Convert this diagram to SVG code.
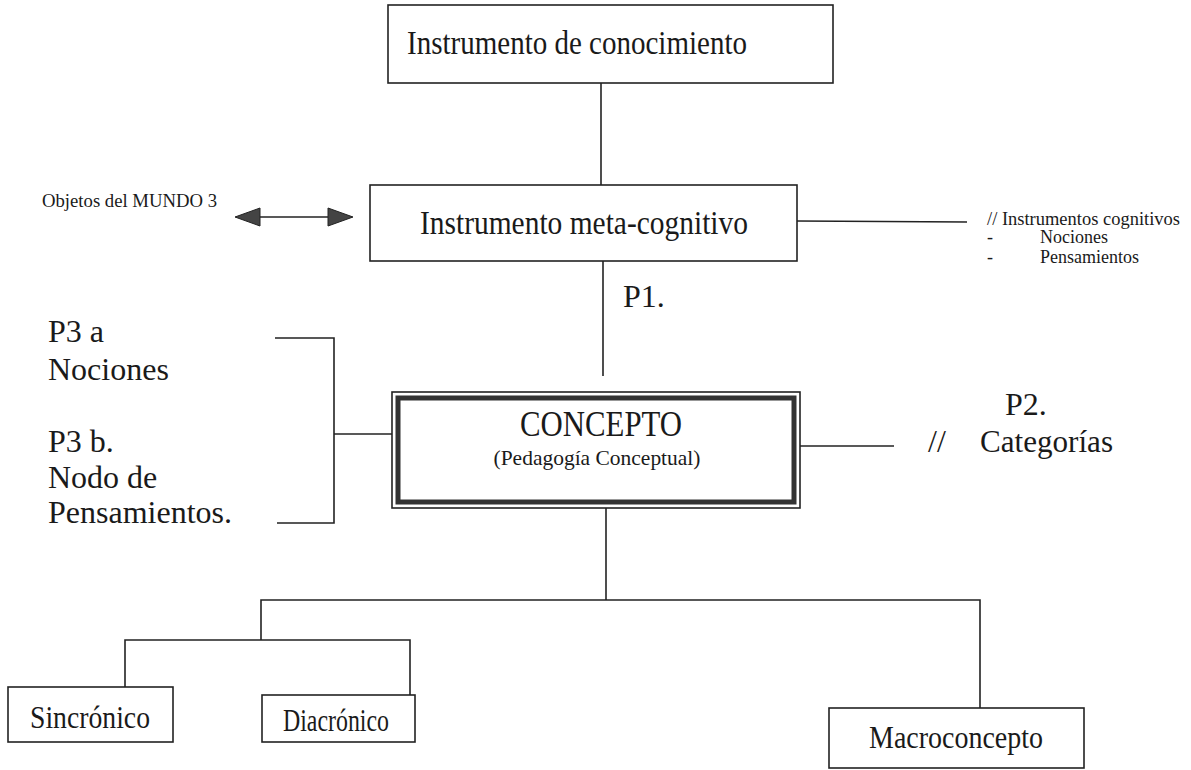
<svg xmlns="http://www.w3.org/2000/svg" width="1191" height="770" viewBox="0 0 1191 770">
<defs>
<style>
.t{font-family:"Liberation Serif","Times New Roman","DejaVu Serif",serif;fill:#1a1a1a}
.box{fill:#fff;stroke:#222;stroke-width:1.6}
.ln{fill:none;stroke:#222;stroke-width:1.6}
.head{fill:#444;stroke:#222;stroke-width:1}
</style>
</defs>
<rect width="1191" height="770" fill="#fff"/>
<g id="connectors">
<line class="ln" x1="601" y1="83" x2="601" y2="185"/>
<line class="ln" x1="603" y1="261" x2="603" y2="376"/>
<line class="ln" x1="797" y1="221" x2="967" y2="222"/>
<line class="ln" x1="800" y1="446" x2="894" y2="446"/>
<polyline class="ln" points="275,338 334,338 334,523 277,523"/>
<line class="ln" x1="334" y1="434" x2="392" y2="434"/>
<line class="ln" x1="606" y1="490" x2="606" y2="600"/>
<polyline class="ln" points="261,640 261,600 980,600 980,708"/>
<polyline class="ln" points="125,687 125,640 410,640 410,695"/>
<line class="ln" x1="256" y1="217" x2="332" y2="217" stroke-width="2"/>
<path class="head" d="M235,217 L260,208 L260,226 Z"/>
<path class="head" d="M353,217 L328,208 L328,226 Z"/>
</g>
<g id="n-conocimiento">
<rect class="box" x="388" y="5" width="445" height="78"/>
<text class="t" x="407" y="54" font-size="33" textLength="340" lengthAdjust="spacingAndGlyphs">Instrumento de conocimiento</text>
</g>
<g id="n-metacognitivo">
<rect class="box" x="370" y="185" width="427" height="76"/>
<text class="t" x="420" y="234" font-size="33" textLength="328" lengthAdjust="spacingAndGlyphs">Instrumento meta-cognitivo</text>
</g>
<g id="n-mundo3">
<text class="t" x="42" y="207" font-size="18" textLength="175" lengthAdjust="spacingAndGlyphs">Objetos del MUNDO 3</text>
</g>
<g id="n-cognitivos">
<text class="t" x="987" y="225" font-size="18" textLength="193" lengthAdjust="spacingAndGlyphs">// Instrumentos cognitivos</text>
<text class="t" x="987" y="243" font-size="18">-</text>
<text class="t" x="1040" y="243" font-size="18">Nociones</text>
<text class="t" x="987" y="263" font-size="18">-</text>
<text class="t" x="1040" y="263" font-size="18">Pensamientos</text>
</g>
<g id="n-p1">
<text class="t" x="623" y="307" font-size="32">P1.</text>
</g>
<g id="n-p3">
<text class="t" x="48" y="342" font-size="32">P3 a</text>
<text class="t" x="48" y="380" font-size="32">Nociones</text>
<text class="t" x="48" y="452" font-size="32">P3 b.</text>
<text class="t" x="48" y="488" font-size="32">Nodo de</text>
<text class="t" x="48" y="523" font-size="32">Pensamientos.</text>
</g>
<g id="n-concepto">
<rect class="box" x="392" y="392" width="408" height="116"/>
<rect x="398" y="398" width="396" height="104" fill="none" stroke="#333" stroke-width="5"/>
<text class="t" x="601" y="436" font-size="35" text-anchor="middle" textLength="162" lengthAdjust="spacingAndGlyphs">CONCEPTO</text>
<text class="t" x="597" y="465" font-size="22" text-anchor="middle" textLength="207" lengthAdjust="spacingAndGlyphs">(Pedagogía Conceptual)</text>
</g>
<g id="n-p2">
<text class="t" x="1005" y="415" font-size="32">P2.</text>
<text class="t" x="928" y="452" font-size="32">//</text>
<text class="t" x="980" y="452" font-size="32" textLength="133" lengthAdjust="spacingAndGlyphs">Categorías</text>
</g>
<g id="n-sincronico">
<rect class="box" x="8" y="687" width="165" height="55"/>
<text class="t" x="30" y="728" font-size="32" textLength="120" lengthAdjust="spacingAndGlyphs">Sincrónico</text>
</g>
<g id="n-diacronico">
<rect class="box" x="262" y="695" width="153" height="47"/>
<text class="t" x="283" y="731" font-size="32" textLength="106" lengthAdjust="spacingAndGlyphs">Diacrónico</text>
</g>
<g id="n-macro">
<rect class="box" x="829" y="708" width="255" height="60"/>
<text class="t" x="869" y="748" font-size="32" textLength="174" lengthAdjust="spacingAndGlyphs">Macroconcepto</text>
</g>
</svg>
